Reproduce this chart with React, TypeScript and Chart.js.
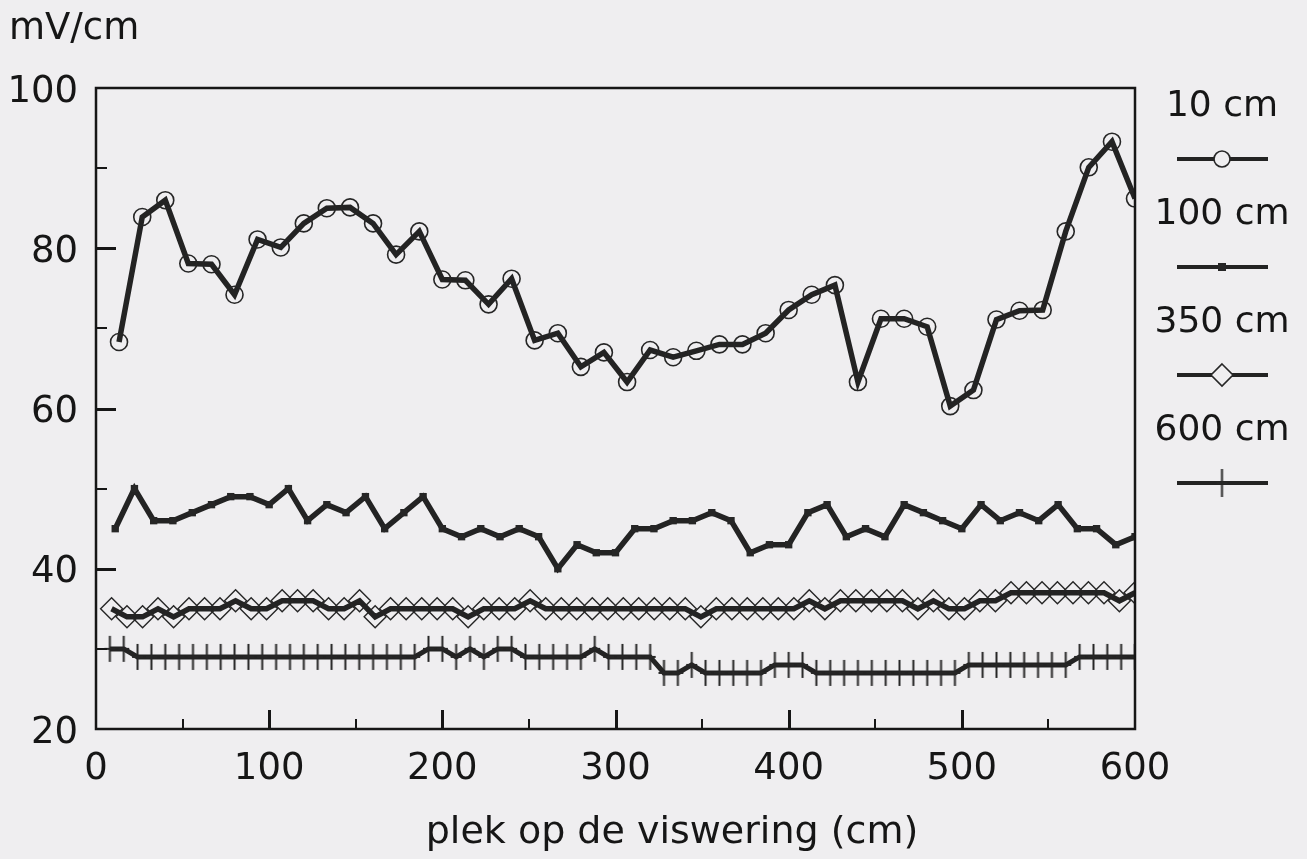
import React, { useEffect, useRef } from 'react';
import { Chart, registerables } from 'chart.js';

Chart.register(...registerables);

// ---- texts ----
const yAxisUnit = 'mV/cm';
const xAxisTitle = 'plek op de viswering (cm)';
const seriesNames = ['10 cm', '100 cm', '350 cm', '600 cm'];

// ---- axis ticks ----
const xTickValues = [0, 100, 200, 300, 400, 500, 600];
const yTickValues = [20, 40, 60, 80, 100];
const xMajorMarks = [100, 200, 300, 400, 500];
const xMinorMarks = [50, 150, 250, 350, 450, 550];
const yMajorMarks = [40, 60, 80];
const yMinorMarks = [30, 50, 70, 90];

// ---- series: 10 cm (circles) ----
const x10 = [13.3, 26.7, 40, 53.3, 66.7, 80, 93.3, 106.7, 120, 133.3, 146.7, 160, 173.3, 186.7, 200,
  213.3, 226.7, 240, 253.3, 266.7, 280, 293.3, 306.7, 320, 333.3, 346.7, 360, 373.3, 386.7, 400,
  413.3, 426.7, 440, 453.3, 466.7, 480, 493.3, 506.7, 520, 533.3, 546.7, 560, 573.3, 586.7, 600];
const y10 = [68.3, 83.9, 86.0, 78.1, 78.0, 74.2, 81.1, 80.1, 83.1, 85.0, 85.1, 83.1, 79.2, 82.1, 76.1,
  76.0, 73.0, 76.2, 68.5, 69.4, 65.2, 67.0, 63.3, 67.3, 66.4, 67.2, 68.0, 68.0, 69.4, 72.3,
  74.2, 75.4, 63.3, 71.2, 71.2, 70.2, 60.3, 62.3, 71.1, 72.2, 72.3, 82.1, 90.1, 93.3, 86.2];

// ---- series: 100 cm (filled squares) ----
const x100 = [11.1, 22.2, 33.3, 44.4, 55.6, 66.7, 77.8, 88.9, 100, 111.1, 122.2, 133.3, 144.4, 155.6,
  166.7, 177.8, 188.9, 200, 211.1, 222.2, 233.3, 244.4, 255.6, 266.7, 277.8, 288.9, 300, 311.1,
  322.2, 333.3, 344.4, 355.6, 366.7, 377.8, 388.9, 400, 411.1, 422.2, 433.3, 444.4, 455.6, 466.7,
  477.8, 488.9, 500, 511.1, 522.2, 533.3, 544.4, 555.6, 566.7, 577.8, 588.9, 600];
const y100 = [45, 50, 46, 46, 47, 48, 49, 49, 48, 50, 46, 48, 47, 49, 45, 47, 49, 45, 44, 45,
  44, 45, 44, 40, 43, 42, 42, 45, 45, 46, 46, 47, 46, 42, 43, 43, 47, 48, 44, 45,
  44, 48, 47, 46, 45, 48, 46, 47, 46, 48, 45, 45, 43, 44];

// ---- series: 350 cm (open diamonds) ----
const x350 = [9.0, 17.9, 26.9, 35.8, 44.8, 53.7, 62.7, 71.6, 80.6, 89.6, 98.5, 107.5, 116.4, 125.4,
  134.3, 143.3, 152.2, 161.2, 170.1, 179.1, 188.1, 197.0, 206.0, 214.9, 223.9, 232.8, 241.8, 250.7,
  259.7, 268.7, 277.6, 286.6, 295.5, 304.5, 313.4, 322.4, 331.3, 340.3, 349.3, 358.2, 367.2, 376.1,
  385.1, 394.0, 403.0, 411.9, 420.9, 429.9, 438.8, 447.8, 456.7, 465.7, 474.6, 483.6, 492.5, 501.5,
  510.4, 519.4, 528.4, 537.3, 546.3, 555.2, 564.2, 573.1, 582.1, 591.0, 600];
const y350 = [35, 34, 34, 35, 34, 35, 35, 35, 36, 35, 35, 36, 36, 36, 35, 35, 36, 34, 35, 35,
  35, 35, 35, 34, 35, 35, 35, 36, 35, 35, 35, 35, 35, 35, 35, 35, 35, 35, 34, 35,
  35, 35, 35, 35, 35, 36, 35, 36, 36, 36, 36, 36, 35, 36, 35, 35, 36, 36, 37, 37,
  37, 37, 37, 37, 37, 36, 37];

// ---- series: 600 cm (plus marks) ----
const x600 = [8, 16, 24, 32, 40, 48, 56, 64, 72, 80, 88, 96, 104, 112, 120, 128, 136, 144, 152, 160,
  168, 176, 184, 192, 200, 208, 216, 224, 232, 240, 248, 256, 264, 272, 280, 288, 296, 304, 312, 320,
  328, 336, 344, 352, 360, 368, 376, 384, 392, 400, 408, 416, 424, 432, 440, 448, 456, 464, 472, 480,
  488, 496, 504, 512, 520, 528, 536, 544, 552, 560, 568, 576, 584, 592, 600];
const y600 = [30, 30, 29, 29, 29, 29, 29, 29, 29, 29, 29, 29, 29, 29, 29, 29, 29, 29, 29, 29,
  29, 29, 29, 30, 30, 29, 30, 29, 30, 30, 29, 29, 29, 29, 29, 30, 29, 29, 29, 29,
  27, 27, 28, 27, 27, 27, 27, 27, 28, 28, 28, 27, 27, 27, 27, 27, 27, 27, 27, 27,
  27, 27, 28, 28, 28, 28, 28, 28, 28, 28, 29, 29, 29, 29, 29];

const FONT = '"DejaVu Sans", "Liberation Sans", sans-serif';
const INK = '#161616';
const LINE = '#232323';
const MARK = '#262626';
const PAPER = '#efeef0';

function pts(xs: number[], ys: number[]) {
  return xs.map((x, i) => ({ x, y: ys[i] }));
}

function makePlus(h: number, w: number): HTMLCanvasElement {
  const c = document.createElement('canvas');
  c.width = w + 4;
  c.height = h + 4;
  const g = c.getContext('2d')!;
  g.strokeStyle = MARK;
  g.lineWidth = 2;
  g.beginPath();
  g.moveTo(c.width / 2, 2);
  g.lineTo(c.width / 2, h + 2);
  g.moveTo(2, c.height / 2);
  g.lineTo(w + 2, c.height / 2);
  g.stroke();
  return c;
}

export default function App() {
  const ref = useRef<HTMLCanvasElement>(null);

  useEffect(() => {
    document.body.style.margin = '0';
    const plus = makePlus(26, 11);
    const plusLegend = makePlus(28, 11);

    const paper = {
      id: 'paper',
      beforeDraw(chart: any) {
        const { ctx, width, height } = chart;
        ctx.save();
        ctx.fillStyle = PAPER;
        ctx.fillRect(0, 0, width, height);
        ctx.restore();
      },
      afterDraw(chart: any) {
        const { ctx, chartArea: a, scales } = chart;
        ctx.save();
        // frame
        ctx.strokeStyle = INK;
        ctx.lineWidth = 2.5;
        ctx.strokeRect(a.left, a.top, a.right - a.left, a.bottom - a.top);
        // inward tick marks
        ctx.fillStyle = INK;
        yMajorMarks.forEach((v) => {
          const y = Math.round(scales.y.getPixelForValue(v));
          ctx.fillRect(a.left, y - 1, 20, 3);
        });
        yMinorMarks.forEach((v) => {
          const y = Math.round(scales.y.getPixelForValue(v));
          ctx.fillRect(a.left, y - 1, 11, 2);
        });
        xMajorMarks.forEach((v) => {
          const x = Math.round(scales.x.getPixelForValue(v));
          ctx.fillRect(x - 1, a.bottom - 19, 3, 19);
        });
        xMinorMarks.forEach((v) => {
          const x = Math.round(scales.x.getPixelForValue(v));
          ctx.fillRect(x - 1, a.bottom - 10, 2, 10);
        });

        // unit label
        ctx.fillStyle = INK;
        ctx.font = `37px ${FONT}`;
        ctx.textAlign = 'left';
        ctx.textBaseline = 'middle';
        ctx.fillText(yAxisUnit, 9, 29);

        // x-axis title
        ctx.font = `38px ${FONT}`;
        ctx.textAlign = 'center';
        ctx.textBaseline = 'alphabetic';
        ctx.fillText(xAxisTitle, 672, 843);

        // legend
        const cx = 1222;
        chart.data.datasets.forEach((ds: any, k: number) => {
          const ty = 107 + 108 * k;
          const ly = 159 + 108 * k;
          ctx.fillStyle = INK;
          ctx.font = `36px ${FONT}`;
          ctx.textAlign = 'center';
          ctx.textBaseline = 'middle';
          ctx.fillText(ds.label, cx, ty);
          ctx.strokeStyle = LINE;
          ctx.lineWidth = 4;
          ctx.beginPath();
          ctx.moveTo(1177, ly);
          ctx.lineTo(1268, ly);
          ctx.stroke();
          ctx.lineWidth = 1.6;
          ctx.strokeStyle = MARK;
          if (k === 0) {
            ctx.beginPath();
            ctx.arc(cx, ly, 8, 0, Math.PI * 2);
            ctx.fillStyle = PAPER;
            ctx.fill();
            ctx.stroke();
          } else if (k === 1) {
            ctx.fillStyle = MARK;
            ctx.fillRect(cx - 4, ly - 4, 8, 8);
          } else if (k === 2) {
            ctx.beginPath();
            ctx.moveTo(cx, ly - 11);
            ctx.lineTo(cx + 11, ly);
            ctx.lineTo(cx, ly + 11);
            ctx.lineTo(cx - 11, ly);
            ctx.closePath();
            ctx.fillStyle = PAPER;
            ctx.fill();
            ctx.stroke();
          } else {
            ctx.drawImage(plusLegend, cx - plusLegend.width / 2, ly - plusLegend.height / 2);
          }
        });
        ctx.restore();
      },
    };

    const chart = new Chart(ref.current!, {
      type: 'line',
      data: {
        datasets: [
          {
            label: seriesNames[0],
            data: pts(x10, y10),
            borderColor: LINE,
            borderWidth: 5.5,
            pointStyle: 'circle',
            pointRadius: 8.5,
            pointBorderWidth: 1.6,
            pointBorderColor: MARK,
            pointBackgroundColor: 'rgba(0,0,0,0)',
            clip: 0,
          },
          {
            label: seriesNames[1],
            data: pts(x100, y100),
            borderColor: LINE,
            borderWidth: 5.5,
            pointStyle: 'rect',
            pointRadius: 5.2,
            pointBorderWidth: 0,
            pointBackgroundColor: MARK,
            clip: 0,
          },
          {
            label: seriesNames[2],
            data: pts(x350, y350),
            borderColor: LINE,
            borderWidth: 5.5,
            pointStyle: 'rectRot',
            pointRadius: 11,
            pointBorderWidth: 1.4,
            pointBorderColor: MARK,
            pointBackgroundColor: 'rgba(0,0,0,0)',
            clip: 0,
          },
          {
            label: seriesNames[3],
            data: pts(x600, y600),
            borderColor: LINE,
            borderWidth: 5,
            pointStyle: plus as any,
            pointRadius: 13,
            clip: 0,
          },
        ] as any,
      },
      options: {
        responsive: false,
        animation: false,
        events: [],
        layout: { padding: { top: 88, right: 172, left: 0, bottom: 0 } },
        elements: { line: { tension: 0 } },
        plugins: {
          legend: { display: false },
          tooltip: { enabled: false },
          title: { display: false },
        },
        scales: {
          x: {
            type: 'linear',
            min: 0,
            max: 600,
            grid: { display: false, drawTicks: false },
            border: { display: false },
            afterBuildTicks: (s: any) => {
              s.ticks = xTickValues.map((v) => ({ value: v }));
            },
            afterFit: (s: any) => {
              s.height = 130;
            },
            ticks: {
              color: INK,
              font: { family: FONT, size: 37 },
              padding: 18,
              maxRotation: 0,
              autoSkip: false,
              callback: (v: any) => String(v),
            },
          },
          y: {
            type: 'linear',
            min: 20,
            max: 100,
            grid: { display: false, drawTicks: false },
            border: { display: false },
            afterBuildTicks: (s: any) => {
              s.ticks = yTickValues.map((v) => ({ value: v }));
            },
            afterFit: (s: any) => {
              s.width = 96;
            },
            ticks: {
              color: INK,
              font: { family: FONT, size: 37 },
              padding: 18,
              labelOffset: 4,
              autoSkip: false,
              callback: (v: any) => String(v),
            },
          },
        },
      },
      plugins: [paper],
    });

    return () => chart.destroy();
  }, []);

  return (
    <div style={{ position: 'fixed', left: 0, top: 0, width: 1307, height: 859 }}>
      <canvas ref={ref} width={1307} height={859} style={{ display: 'block', width: 1307, height: 859 }} />
    </div>
  );
}
